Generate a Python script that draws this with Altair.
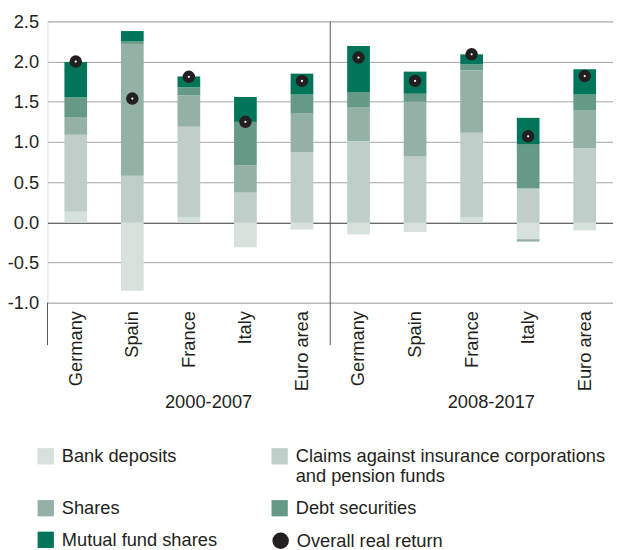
import altair as alt
import pandas as pd

FONT = "Liberation Sans"
TXT = "#231f20"

periods = ["2000-2007"] * 5 + ["2008-2017"] * 5
countries = ["Germany", "Spain", "France", "Italy", "Euro area"] * 2
components = [
    "Bank deposits",
    "Claims against insurance corporations|and pension funds",
    "Shares",
    "Debt securities",
    "Mutual fund shares",
]
colors = ["#d6e1dc", "#bfcec8", "#93b1a5", "#669a87", "#00755a"]
# legend reading order (column by column): left column, then right column
legend_order = [0, 2, 4, 1, 3]

bank = [0.13, -0.85, 0.06, -0.31, -0.09, -0.15, -0.12, 0.06, -0.21, -0.10]
claims = [0.96, 0.58, 1.13, 0.37, 0.87, 1.01, 0.82, 1.055, 0.42, 0.92]
shares = [0.22, 1.64, 0.39, 0.34, 0.49, 0.425, 0.68, 0.775, -0.03, 0.47]
debt = [0.245, 0.03, 0.10, 0.54, 0.23, 0.185, 0.10, 0.075, 0.55, 0.20]
mutual = [0.44, 0.13, 0.135, 0.31, 0.26, 0.575, 0.275, 0.125, 0.33, 0.315]
overall = [2.00, 1.54, 1.81, 1.25, 1.76, 2.05, 1.76, 2.09, 1.07, 1.82]

keys = [p + "|" + c for p, c in zip(periods, countries)]
series = [bank, claims, shares, debt, mutual]

rows = []
for ci, (comp, vals) in enumerate(zip(components, series)):
    for k, v in zip(keys, vals):
        rows.append({"key": k, "component": comp, "value": v, "order": ci})
bars_df = pd.DataFrame(rows)

dots_df = pd.DataFrame({"key": keys, "overall": overall, "series": "Overall real return"})

W, H = 573, 285

xscale = alt.Scale(paddingInner=0, paddingOuter=0)
xenc = alt.X(
    "key:N",
    sort=keys,
    scale=xscale,
    title=None,
    axis=alt.Axis(
        labelExpr="split(datum.label, '|')[1]",
        labelAngle=-90,
        labelAlign="right",
        labelBaseline="middle",
        labelPadding=8,
        labelFontSize=18.5,
        labelFont=FONT,
        labelColor=TXT,
        domain=False,
        ticks=False,
        grid=False,
    ),
)

yscale = alt.Scale(domain=[-1, 2.5], nice=False, zero=False)
yaxis = alt.Axis(
    values=[-1, -0.5, 0, 0.5, 1, 1.5, 2, 2.5],
    labelExpr="replace(format(datum.value, '.1f'), '\u2212', '-')",
    labelFontSize=18.5,
    labelFont=FONT,
    labelColor=TXT,
    labelPadding=9,
    domain=False,
    ticks=False,
    grid=True,
    gridColor={"condition": {"test": "datum.value === 0", "value": "#333333"}, "value": "#a3a3a3"},
    gridWidth=1,
    title=None,
)

bars = alt.Chart(bars_df).mark_bar(size=23).encode(
    x=xenc,
    y=alt.Y("value:Q", stack="zero", scale=yscale, axis=yaxis),
    fill=alt.Fill(
        "component:N",
        scale=alt.Scale(
            domain=[components[i] for i in legend_order],
            range=[colors[i] for i in legend_order],
        ),
        legend=alt.Legend(
            title=None,
            orient="none",
            legendX=-11,
            legendY=431,
            columns=2,
            columnPadding=54,
            rowPadding=13,
            symbolType="square",
            symbolSize=272,
            symbolStrokeWidth=0,
            symbolOpacity=1,
            labelFontSize=18.5,
            labelFont=FONT,
            labelColor=TXT,
            labelLimit=340,
            labelOffset=7,
            labelExpr="datum.label == 'Bank deposits' ? ['Bank deposits', ''] : split(datum.label, '|')",
            padding=0,
        ),
    ),
    order=alt.Order("order:Q"),
)

dots = alt.Chart(dots_df).mark_point(filled=True, size=160, opacity=1, shape="circle").encode(
    x=alt.X("key:N", sort=keys),
    y=alt.Y("overall:Q"),
    color=alt.Color(
        "series:N",
        scale=alt.Scale(range=[TXT]),
        legend=alt.Legend(
            title=None,
            orient="none",
            legendX=227,
            legendY=517,
            symbolType="circle",
            symbolSize=279,
            symbolStrokeWidth=0,
            symbolOpacity=1,
            labelFontSize=18.5,
            labelFont=FONT,
            labelColor=TXT,
            labelLimit=300,
            labelOffset=7,
            padding=0,
        ),
    ),
)

centers = alt.Chart(dots_df).mark_point(filled=True, size=5, opacity=1, color="white", shape="circle").encode(
    x=alt.X("key:N", sort=keys),
    y=alt.Y("overall:Q"),
)

divider_df = pd.DataFrame({"key": [keys[5]]})
divider = alt.Chart(divider_df).mark_rule(color="#555555", strokeWidth=1).encode(
    x=alt.X("key:N", sort=keys, bandPosition=0),
    y=alt.value(0),
    y2=alt.value(H + 43),
)

leftline = alt.Chart(divider_df).mark_rule(color="#555555", strokeWidth=1).encode(
    x=alt.value(0),
    y=alt.value(H),
    y2=alt.value(H + 43),
)

period_df = pd.DataFrame({"key": [keys[2], keys[7]], "period": ["2000-2007", "2008-2017"]})
period_text = alt.Chart(period_df).mark_text(
    dx=20, fontSize=18.5, font=FONT, color=TXT, baseline="middle", align="center"
).encode(
    x=alt.X("key:N", sort=keys),
    y=alt.value(386),
    text="period:N",
)

chart = (
    alt.layer(bars, divider, leftline, dots, centers, period_text)
    .properties(
        width=W,
        height=H,
        autosize=alt.AutoSizeParams(type="none"),
        padding={"left": 40, "top": 10, "right": 0, "bottom": 247},
    )
    .configure_view(stroke=None)
    .configure(font=FONT)
)

chart.save("out.html", embed_options={"renderer": "svg", "actions": False})
